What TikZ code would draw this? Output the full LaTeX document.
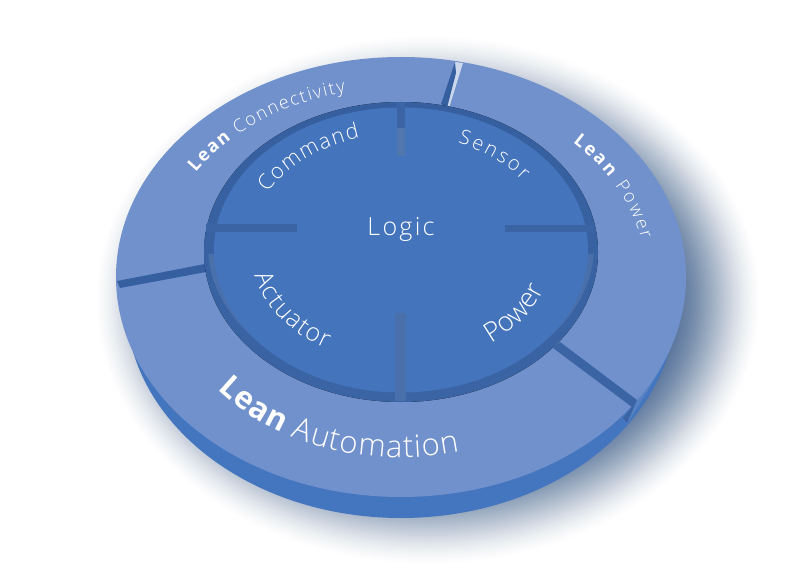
\documentclass[tikz,border=0pt]{standalone}
\usepackage{fontspec}
\setmainfont{Open Sans}[UprightFont=* Light,BoldFont=* Bold]
\usetikzlibrary{decorations.text}

\definecolor{ringblue}{HTML}{7191CC}
\definecolor{diskblue}{HTML}{4474BC}
\definecolor{sideblue}{HTML}{4475BF}
\definecolor{rimblue}{HTML}{355F9F}
\definecolor{rimlight}{HTML}{4A70AC}
\definecolor{tickblue}{HTML}{3A64A4}
\definecolor{ticklight}{HTML}{5078AE}
\definecolor{shadowblue}{HTML}{3F5F90}

\newcommand{\fs}[1]{\fontsize{#1}{#1}\selectfont}
\newcommand{\curvelabel}[7]{%
  \path[decorate,decoration={text along path,text align={fit to path},
    text color=white,text={#7}}]
    ({#1+#3*cos(#5)},{#2-#4*sin(#5)}) arc[start angle=#5,end angle=#6,x radius=#3pt,y radius=#4pt];
}

\begin{document}
\begin{tikzpicture}[x=1pt,y=-1pt,
    disklabel/.style={text=white,font=\fs{25}\addfontfeature{LetterSpace=9}}]
    \useasboundingbox (0,0) rectangle (800,577);
    \fill[white] (0,0) rectangle (800,577);

    % === SHADOW ===
    \foreach \k in {0,...,50} {
        \pgfmathsetmacro{\shadowop}{0.005+0.0017*\k}
        \fill[shadowblue,opacity=\shadowop] (428,300) ellipse ({(332-2*\k)*1pt} and {(264-2*\k)*1pt});
    }

    % === RING ===
    \fill[sideblue] (401,303) ellipse (275pt and 215pt);
    \fill[sideblue!90!white] (637,400) -- (662,367) -- (627,424) -- cycle;
    \fill[ringblue] (401,277) ellipse (285pt and 220pt);

    % Slots
    \fill[white!65!ringblue] (455,62) -- (463,63) -- (449,108) -- (445,108) -- cycle;
    \fill[rimblue] (455,62) -- (456,73) -- (447,108) -- (441,104) -- cycle;
    \fill[rimblue] (117,281) -- (205,264) -- (206,272) -- (120,288) -- cycle;
    \fill[tickblue] (560,342) -- (637,400) -- (632,407) -- (553,348) -- cycle;
    \fill[tickblue] (637,400) -- (627,423) -- (623,418) -- (632,407) -- cycle;

    % === DISK ===
    \fill[top color=rimblue,bottom color=tickblue] (401,252) ellipse (197pt and 150pt);
    \begin{scope}
        \clip (190,255) rectangle (610,345);
        \fill[rimlight] (401,246) ellipse (193pt and 142.5pt);
    \end{scope}
    \fill[diskblue] (401,250) ellipse (187pt and 142.5pt);

    % Ticks
    \fill[tickblue] (397,102) rectangle (405,128);
    \fill[ticklight] (397,128) rectangle (405,156);
    \fill[tickblue] (206,224) rectangle (297,232);
    \fill[tickblue] (505,225) rectangle (593,232);
    \fill[rimlight] (395,313) rectangle (406,401);

    % === LABELS ===
    \node[disklabel] (logic) at (401,229) {Logic};
    \curvelabel{401}{250}{153}{116.6}{150.8}{105.6}{|\fs{21.5}|Command}
    \curvelabel{401}{250}{152}{115.8}{68}{36.9}{|\fs{20}|Sensor}
    \curvelabel{401}{250}{150}{114.3}{193}{240}{|\fs{25}|Actuator}
    \curvelabel{401}{250}{152}{115.8}{306.4}{340}{|\fs{27}|Power}
    \curvelabel{401}{277}{246}{190}{146.6}{103}{|\fs{18}\bfseries|Lean|\fs{18}\mdseries| Connectivity}
    \curvelabel{401}{277}{245}{189}{45.5}{11.4}{|\fs{18}\bfseries|Lean|\fs{18}\mdseries| Power}
    \curvelabel{401}{277}{234}{180.6}{218.4}{284.5}{|\fs{31}\bfseries|Lean|\fs{31}\mdseries| Automation}
\end{tikzpicture}
\end{document}
